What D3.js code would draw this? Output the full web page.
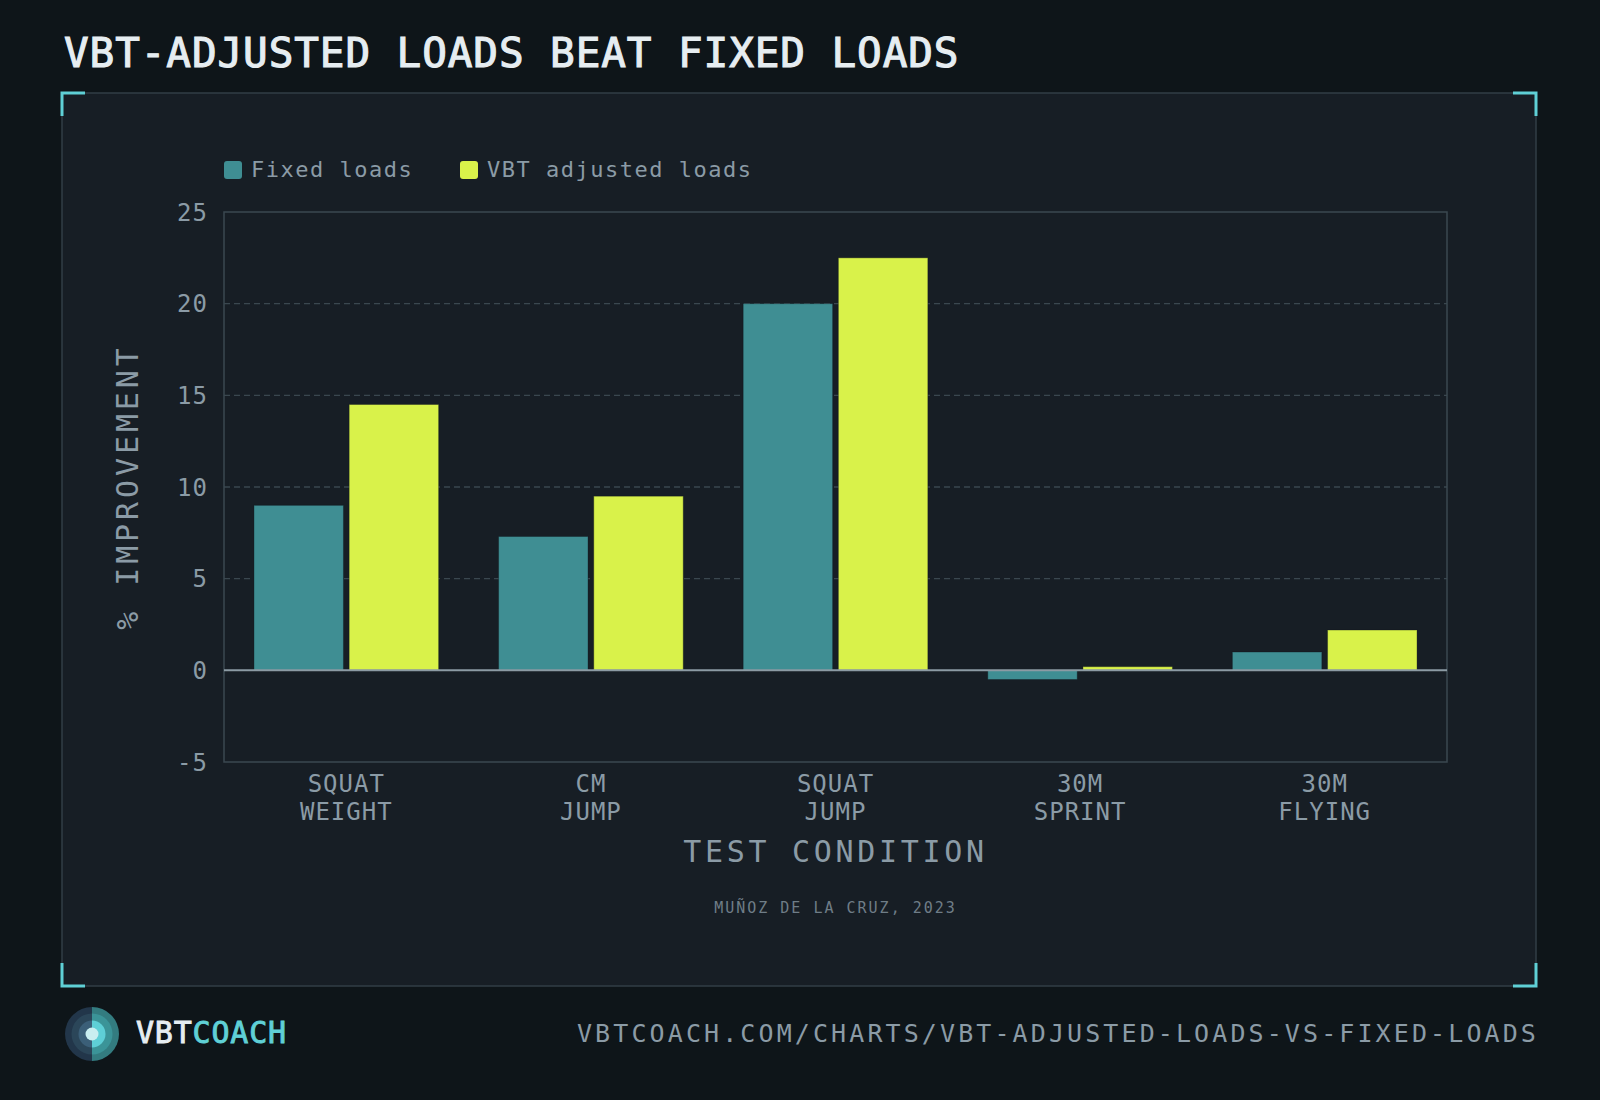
<!DOCTYPE html>
<html>
<head>
<meta charset="utf-8">
<script src="https://cdn.jsdelivr.net/npm/d3@7"></script>
<style>
  html, body { margin: 0; padding: 0; background: #0e1519; }
  svg { display: block; }
  text { font-family: "DejaVu Sans Mono", monospace; }
</style>
</head>
<body>
<div id="chart"></div>
<script>
// Données
const categories = [["SQUAT", "WEIGHT"], ["CM", "JUMP"], ["SQUAT", "JUMP"], ["30M", "SPRINT"], ["30M", "FLYING"]];
const seriesNames = ["Fixed loads", "VBT adjusted loads"];
const fixedLoads = [9.0, 7.3, 20.0, -0.5, 1.0];
const vbtLoads = [14.5, 9.5, 22.5, 0.2, 2.2];
const yTicks = [-5, 0, 5, 10, 15, 20, 25];

const W = 1600, H = 1100;
const colors = { fixed: "#3f8e93", vbt: "#d9f24a" };
const seriesColors = [colors.fixed, colors.vbt];

// Zone de tracé
const plot = { left: 224, right: 1447, top: 212, bottom: 762 };

const svg = d3.select("#chart")
    .append("svg")
    .attr("width", W)
    .attr("height", H);

svg.append("rect").attr("width", W).attr("height", H).attr("fill", "#0e1519");

// Titre
svg.append("text")
    .attr("x", 64)
    .attr("y", 67)
    .attr("fill", "#e6edf1")
    .attr("stroke", "#e6edf1")
    .attr("stroke-width", 1.1)
    .style("font-size", "41px")
    .style("letter-spacing", "0.9px")
    .text("VBT-ADJUSTED LOADS BEAT FIXED LOADS");

// Panneau
const panel = { x: 62, y: 93, w: 1474, h: 893 };
svg.append("rect")
    .attr("x", panel.x).attr("y", panel.y)
    .attr("width", panel.w).attr("height", panel.h)
    .attr("fill", "#171e25")
    .attr("stroke", "#323e46")
    .attr("stroke-width", 1.5);

// Coins cyan
const br = 23;
const corners = [
    [panel.x, panel.y, 1, 1],
    [panel.x + panel.w, panel.y, -1, 1],
    [panel.x, panel.y + panel.h, 1, -1],
    [panel.x + panel.w, panel.y + panel.h, -1, -1]
];
svg.append("g").selectAll("path")
    .data(corners)
    .enter()
    .append("path")
    .attr("d", d => `M${d[0] + d[2] * br},${d[1]} L${d[0]},${d[1]} L${d[0]},${d[1] + d[3] * br}`)
    .attr("fill", "none")
    .attr("stroke", "#5fd0d6")
    .attr("stroke-width", 3);

// Échelles
const x0 = d3.scaleBand()
    .domain(d3.range(categories.length))
    .range([plot.left, plot.right]);
const step = x0.bandwidth();
const x1 = d3.scaleBand()
    .domain(d3.range(seriesNames.length))
    .range([step * 0.1225, step * 0.8775])
    .paddingInner(0.06);
const y = d3.scaleLinear()
    .domain([-5, 25])
    .range([plot.bottom, plot.top]);

// Grille pointillée
svg.append("g")
    .selectAll("line")
    .data(yTicks.filter(t => t !== 0 && t !== 25 && t !== -5))
    .enter()
    .append("line")
    .attr("x1", plot.left).attr("x2", plot.right)
    .attr("y1", d => y(d)).attr("y2", d => y(d))
    .attr("stroke", "#3a474f")
    .attr("stroke-width", 1.3)
    .attr("stroke-dasharray", "6,4");

// Cadre du tracé
svg.append("rect")
    .attr("x", plot.left).attr("y", plot.top)
    .attr("width", plot.right - plot.left)
    .attr("height", plot.bottom - plot.top)
    .attr("fill", "none")
    .attr("stroke", "#3b4850")
    .attr("stroke-width", 1.5);

// Barres
const rows = categories.map((c, i) => ({ i: i, values: [fixedLoads[i], vbtLoads[i]] }));
const groups = svg.append("g")
    .selectAll("g")
    .data(rows)
    .enter()
    .append("g")
    .attr("transform", d => `translate(${x0(d.i)},0)`);

groups.selectAll("rect")
    .data(d => d.values.map((v, s) => ({ v: v, s: s })))
    .enter()
    .append("rect")
    .attr("x", d => x1(d.s))
    .attr("width", x1.bandwidth())
    .attr("y", d => y(Math.max(0, d.v)))
    .attr("height", d => Math.abs(y(d.v) - y(0)))
    .attr("fill", d => seriesColors[d.s])
    .attr("stroke", "#0e1519")
    .attr("stroke-opacity", 0.35)
    .attr("stroke-width", 1);

// Ligne zéro
svg.append("line")
    .attr("x1", plot.left).attr("x2", plot.right)
    .attr("y1", y(0)).attr("y2", y(0))
    .attr("stroke", "#8c9ba4")
    .attr("stroke-width", 2);

// Étiquettes de l'axe Y
svg.append("g")
    .selectAll("text")
    .data(yTicks)
    .enter()
    .append("text")
    .attr("x", 208)
    .attr("y", d => y(d))
    .attr("dy", "0.36em")
    .attr("text-anchor", "end")
    .attr("fill", "#8b9ba6")
    .style("font-size", "24px")
    .style("letter-spacing", "1px")
    .text(d => d);

// Étiquettes des catégories
const catLabels = svg.append("g")
    .selectAll("text")
    .data(categories)
    .enter()
    .append("text")
    .attr("text-anchor", "middle")
    .attr("fill", "#8b9ba6")
    .style("font-size", "24px")
    .style("letter-spacing", "1px");
catLabels.each(function (d, i) {
    const t = d3.select(this);
    d.forEach((line, k) => {
        t.append("tspan")
            .attr("x", x0(i) + step / 2)
            .attr("y", 792 + k * 28)
            .text(line);
    });
});

// Titres des axes
svg.append("text")
    .attr("x", (plot.left + plot.right) / 2)
    .attr("y", 862)
    .attr("text-anchor", "middle")
    .attr("fill", "#8b9ba6")
    .style("font-size", "30px")
    .style("letter-spacing", "3.7px")
    .text("TEST CONDITION");

svg.append("text")
    .attr("transform", `translate(138,${(plot.top + plot.bottom) / 2}) rotate(-90)`)
    .attr("text-anchor", "middle")
    .attr("fill", "#8b9ba6")
    .style("font-size", "30px")
    .style("letter-spacing", "3.9px")
    .text("% IMPROVEMENT");

// Source
svg.append("text")
    .attr("x", (plot.left + plot.right) / 2)
    .attr("y", 913)
    .attr("text-anchor", "middle")
    .attr("fill", "#6f7d87")
    .style("font-size", "15px")
    .style("letter-spacing", "2px")
    .text("MUÑOZ DE LA CRUZ, 2023");

// Légende
const legend = svg.append("g")
    .selectAll("g")
    .data(seriesNames)
    .enter()
    .append("g")
    .attr("transform", (d, i) => `translate(${i === 0 ? 224 : 460},161)`);
legend.append("rect")
    .attr("width", 18).attr("height", 18)
    .attr("rx", 3)
    .attr("fill", (d, i) => seriesColors[i]);
legend.append("text")
    .attr("x", 27)
    .attr("y", 16)
    .attr("fill", "#8b9ba6")
    .style("font-size", "22px")
    .style("letter-spacing", "1.5px")
    .text(d => d);

// Pied de page : logo
const logo = svg.append("g").attr("transform", "translate(92,1034)");
const rings = [
    { r: 27, left: "#22364a", right: "#337c80" },
    { r: 20.5, left: "#2b4659", right: "#3b9498" },
    { r: 13.5, left: "#3b5f78", right: "#5ecfd6" }
];
rings.forEach(ring => {
    logo.append("path")
        .attr("d", d3.arc()({ innerRadius: 0, outerRadius: ring.r, startAngle: Math.PI, endAngle: 2 * Math.PI }))
        .attr("fill", ring.left);
    logo.append("path")
        .attr("d", d3.arc()({ innerRadius: 0, outerRadius: ring.r, startAngle: 0, endAngle: Math.PI }))
        .attr("fill", ring.right);
});
logo.append("circle").attr("r", 6.5).attr("fill", "#c9eef0");

const brand = svg.append("text")
    .attr("x", 136)
    .attr("y", 1043)
    .attr("stroke-width", 0.9)
    .style("font-size", "30px")
    .style("letter-spacing", "0.8px");
brand.append("tspan").attr("fill", "#e6edf1").attr("stroke", "#e6edf1").text("VBT");
brand.append("tspan").attr("fill", "#5fd0d6").attr("stroke", "#5fd0d6").text("COACH");

svg.append("text")
    .attr("x", 1539)
    .attr("y", 1042)
    .attr("text-anchor", "end")
    .attr("fill", "#8b9ba6")
    .style("font-size", "25px")
    .style("letter-spacing", "3.1px")
    .text("VBTCOACH.COM/CHARTS/VBT-ADJUSTED-LOADS-VS-FIXED-LOADS");
</script>
</body>
</html>
